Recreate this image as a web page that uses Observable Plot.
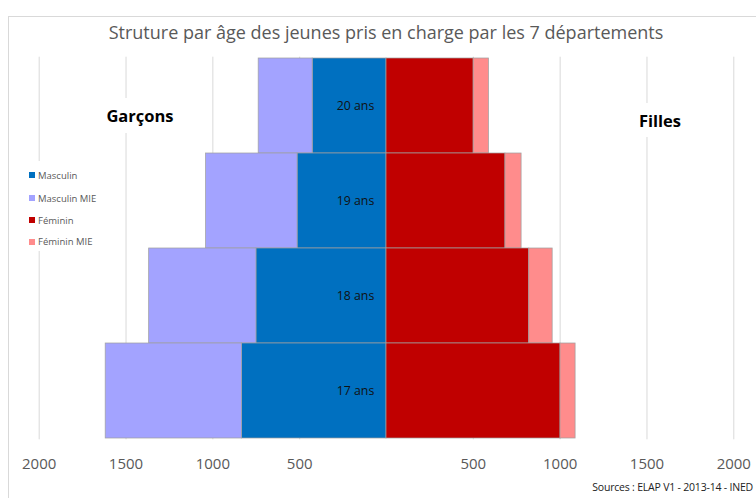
<!DOCTYPE html>
<html>
<head>
<meta charset="utf-8">
<script src="https://cdn.jsdelivr.net/npm/d3@7"></script>
<script src="https://cdn.jsdelivr.net/npm/@observablehq/plot@0.6"></script>
<style>
  body { margin: 0; background: #fff; }
  #wrap { position: relative; width: 756px; height: 498px; overflow: hidden; font-family: "Open Sans", sans-serif; }
  #frame { position: absolute; left: 8px; top: 16px; width: 820px; height: 620px; border: 1px solid #d9d9d9; box-sizing: border-box; }
  #chart { position: absolute; left: 0; top: 0; }
  #title { position: absolute; left: 0; width: 772px; top: 20px; text-align: center; font-size: 18px; color: #595959; white-space: nowrap; }
  .side { position: absolute; background: #fff; font-weight: bold; font-size: 16.5px; color: #000; display: flex; align-items: center; justify-content: center; }
  #legend { position: absolute; left: 20px; top: 161px; width: 98px; height: 90px; background: #fff; }
  .li { position: absolute; left: 9px; font-size: 9.5px; color: #595959; display: flex; align-items: center; white-space: nowrap; }
  .sw { display: inline-block; width: 6px; height: 6px; margin-right: 3px; }
  #source { position: absolute; right: 3px; top: 480px; font-size: 10.5px; color: #222; white-space: nowrap; letter-spacing: -0.2px; }
</style>
</head>
<body>
<div id="wrap">
  <div id="frame"></div>
  <div id="chart"></div>
  <div id="title"></div>
  <div id="garcons" class="side"></div>
  <div id="filles" class="side"></div>
  <div id="legend"></div>
  <div id="source"></div>
</div>
<script>
const titleText = "Struture par âge des jeunes pris en charge par les 7 départements";
const leftLabel = "Garçons";
const rightLabel = "Filles";
const sourceText = "Sources : ELAP V1 - 2013-14 - INED";

const ages = ["20 ans", "19 ans", "18 ans", "17 ans"];
const masculin = [425, 512, 749, 832];
const masculinMIE = [311, 527, 618, 785];
const feminin = [502, 685, 822, 1002];
const femininMIE = [88, 93, 135, 87];
const series = ["Masculin", "Masculin MIE", "Féminin", "Féminin MIE"];
const colors = ["#0070C0", "#A3A3FF", "#C00000", "#FF8C8C"];
const tickValues = [-2000, -1500, -1000, -500, 500, 1000, 1500, 2000];

const rows = [];
ages.forEach((a, i) => {
  rows.push({age: a, serie: "Masculin", value: -masculin[i]});
  rows.push({age: a, serie: "Masculin MIE", value: -masculinMIE[i]});
  rows.push({age: a, serie: "Féminin", value: feminin[i]});
  rows.push({age: a, serie: "Féminin MIE", value: femininMIE[i]});
});

const chart = Plot.plot({
  width: 756,
  height: 498,
  marginLeft: 38.7,
  marginRight: 22.7,
  marginTop: 56.7,
  marginBottom: 58.7,
  style: {fontFamily: "Open Sans, sans-serif", color: "#595959", background: "transparent"},
  x: {domain: [-2000, 2000], axis: null, label: null},
  y: {domain: ages, padding: 0, axis: null},
  color: {domain: series, range: colors},
  marks: [
    Plot.gridX(tickValues, {stroke: "#d9d9d9", strokeOpacity: 1, strokeWidth: 1}),
    Plot.barX(rows, Plot.stackX({
      y: "age", x: "value", fill: "serie", order: series,
      stroke: "#a0a0a0", strokeWidth: 0.8, strokeOpacity: 0.9
    })),
    Plot.text(ages, {y: d => d, x: () => 0, dx: -31, text: d => d, fontSize: 12.3, fill: "#111"}),
    Plot.axisX({
      ticks: tickValues, tickFormat: d => String(Math.abs(d)), tickSize: 0, tickPadding: 19,
      fontSize: 15, fill: "#595959", anchor: "bottom", label: null
    })
  ]
});
document.getElementById("chart").appendChild(chart);

document.getElementById("title").textContent = titleText;
document.getElementById("source").textContent = sourceText;

const g = document.getElementById("garcons");
g.textContent = leftLabel;
Object.assign(g.style, {left: "100px", top: "98px", width: "80px", height: "35px"});
const f = document.getElementById("filles");
f.textContent = rightLabel;
Object.assign(f.style, {left: "632px", top: "103px", width: "56px", height: "34px"});

const legend = document.getElementById("legend");
const legendTops = [175.3, 198.3, 220.3, 241.7];
series.forEach((s, i) => {
  const item = document.createElement("div");
  item.className = "li";
  item.style.top = (legendTops[i] - 161 - 7) + "px";
  item.style.height = "14px";
  const sw = document.createElement("span");
  sw.className = "sw";
  sw.style.background = colors[i];
  item.appendChild(sw);
  item.appendChild(document.createTextNode(s));
  legend.appendChild(item);
});
</script>
</body>
</html>
